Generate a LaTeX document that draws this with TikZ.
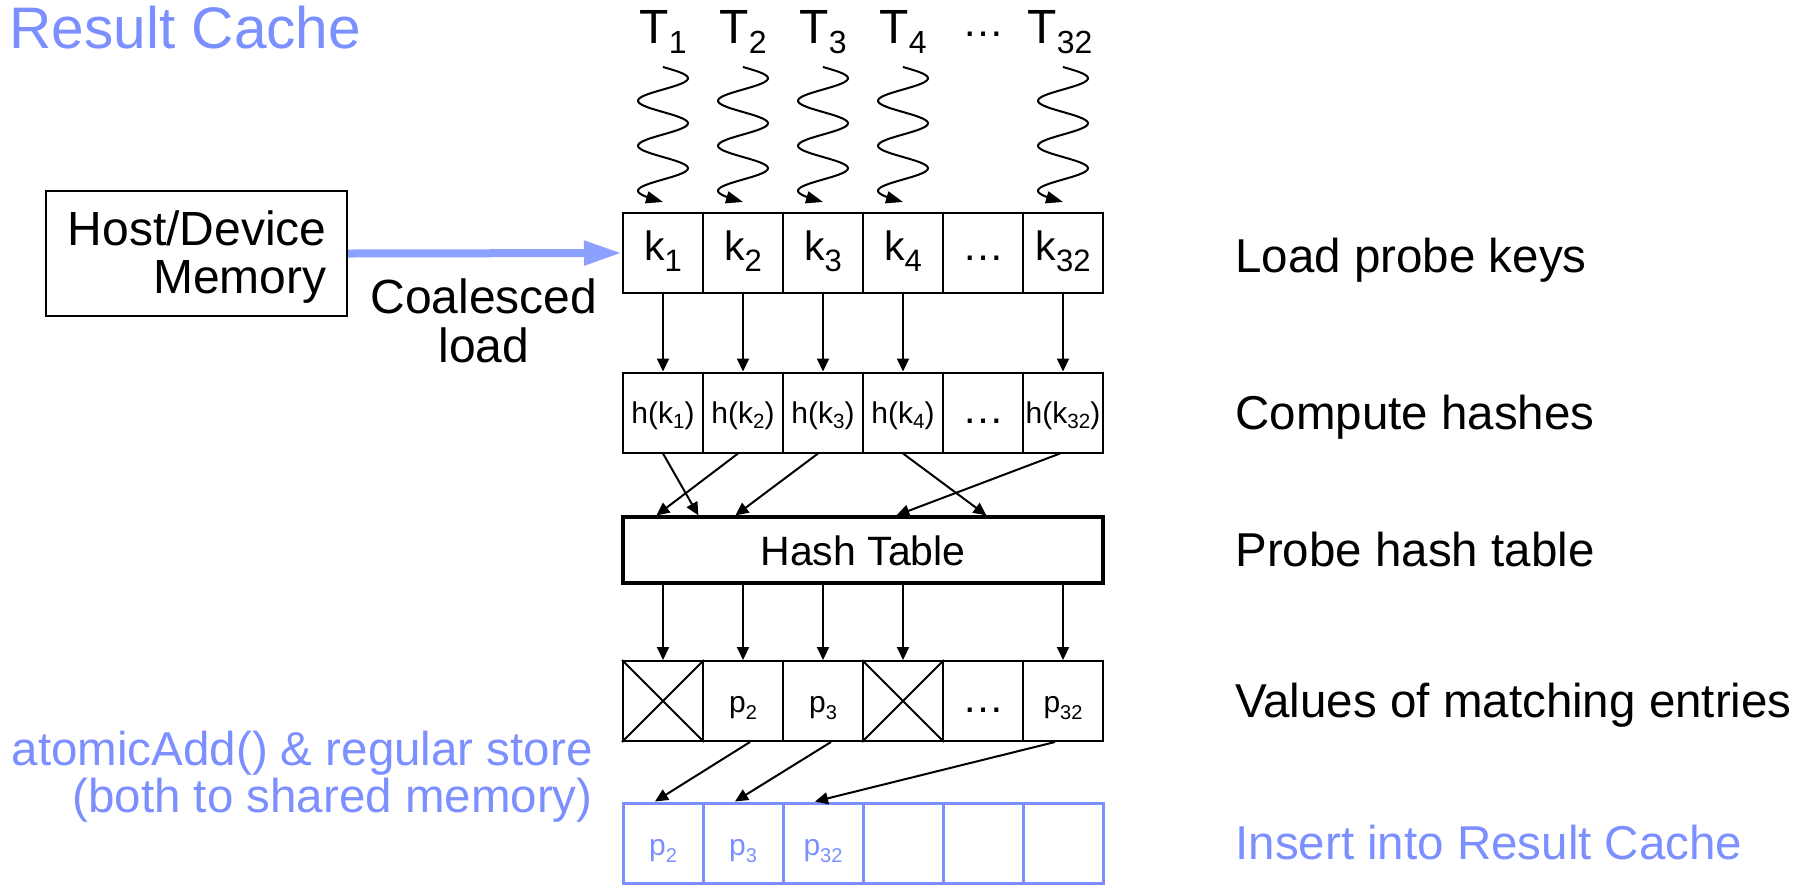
\documentclass[tikz,border=0pt]{standalone}
\usepackage{fontspec}
\setmainfont{Liberation Sans}
\usetikzlibrary{arrows.meta,calc}
\definecolor{cacheblue}{RGB}{124,143,255}
\definecolor{loadblue}{RGB}{140,160,255}
% lowered, smaller text used as a subscript: size, drop, text
\newcommand{\lowsub}[3]{\raisebox{-#2}{\fontsize{#1}{#1}\selectfont #3}}

\begin{document}
\begin{tikzpicture}[x=0.5pt,y=-0.5pt,
  box/.style={draw, line width=1pt, minimum width=40pt, minimum height=40pt, inner sep=0pt, text depth=0pt},
  keycell/.style={box, text height=7pt, font=\fontsize{20.5}{20.5}\selectfont},
  hashcell/.style={box, text height=10.5pt, font=\fontsize{15}{15}\selectfont},
  valcell/.style={box, text height=11pt, font=\fontsize{15}{15}\selectfont},
  rescell/.style={box, draw=cacheblue, text=cacheblue, line width=1.5pt, text height=12pt, font=\fontsize{15}{15}\selectfont},
  flow/.style={line width=1pt, -{Triangle[length=6.5pt,width=6pt]}},
  wave/.style={line width=1pt, -{Triangle[length=8.5pt,width=6pt]}},
  tlabel/.style={anchor=base, inner sep=0pt, font=\fontsize{24}{24}\selectfont},
  stagelabel/.style={anchor=base west, inner sep=0pt, font=\fontsize{23.75}{23.75}\selectfont},
  sidetext/.style={inner sep=0pt, font=\fontsize{24}{24}\selectfont},
  bigdots/.style={font=\fontsize{21}{21}\selectfont}
]
\useasboundingbox (0,0) rectangle (1814,885);

% title
\node[anchor=base west, inner sep=0pt, text=cacheblue, font=\fontsize{29.3}{29.3}\selectfont] (title) at (9,48) {Result Cache};

% threads
\node[tlabel] (T1) at (663,43) {T\lowsub{16}{5pt}{1}};
\node[tlabel] (T2) at (743,43) {T\lowsub{16}{5pt}{2}};
\node[tlabel] (T3) at (823,43) {T\lowsub{16}{5pt}{3}};
\node[tlabel] (T4) at (903,43) {T\lowsub{16}{5pt}{4}};
\node[anchor=base, inner sep=0pt, bigdots] (Tdots) at (983,36) {…};
\node[tlabel] (T6) at (1060,43) {T\lowsub{16}{5pt}{32}};

% probe keys
\node[keycell] (k1) at (663,253) {k\lowsub{15.5}{5.5pt}{1}};
\node[keycell] (k2) at (743,253) {k\lowsub{15.5}{5.5pt}{2}};
\node[keycell] (k3) at (823,253) {k\lowsub{15.5}{5.5pt}{3}};
\node[keycell] (k4) at (903,253) {k\lowsub{15.5}{5.5pt}{4}};
\node[keycell,bigdots] (k5) at (983,253) {…};
\node[keycell] (k6) at (1063,253) {k\lowsub{15.5}{5.5pt}{32}};

% hashes
\node[hashcell] (h1) at (663,412.5) {h(k\lowsub{10.3}{2.5pt}{1})};
\node[hashcell] (h2) at (743,412.5) {h(k\lowsub{10.3}{2.5pt}{2})};
\node[hashcell] (h3) at (823,412.5) {h(k\lowsub{10.3}{2.5pt}{3})};
\node[hashcell] (h4) at (903,412.5) {h(k\lowsub{10.3}{2.5pt}{4})};
\node[hashcell,bigdots] (h5) at (983,412.5) {…};
\node[hashcell] (h6) at (1063,412.5) {h(k\lowsub{10.3}{2.5pt}{32})};

% hash table
\node[draw, line width=1.6pt, minimum width=240pt, minimum height=33pt, inner sep=0pt,
      text height=15pt, text depth=0pt, font=\fontsize{20.5}{20.5}\selectfont] (ht) at (863,550) {Hash Table};

% matching values
\node[valcell] (v1) at (663,701) {};
\node[valcell] (v2) at (743,701) {p\lowsub{10}{3.5pt}{2}};
\node[valcell] (v3) at (823,701) {p\lowsub{10}{3.5pt}{3}};
\node[valcell] (v4) at (903,701) {};
\node[valcell,bigdots] (v5) at (983,701) {…};
\node[valcell] (v6) at (1063,701) {p\lowsub{10}{3.5pt}{32}};
\foreach \i in {1,4}
  \draw[line width=1pt] (v\i.north west) -- (v\i.south east) (v\i.north east) -- (v\i.south west);

% result cache
\node[rescell] (r1) at (663,843) {p\lowsub{10}{3.5pt}{2}};
\node[rescell] (r2) at (743,843) {p\lowsub{10}{3.5pt}{3}};
\node[rescell] (r3) at (823,843) {p\lowsub{10}{3.5pt}{32}};
\node[rescell] (r4) at (903,843) {};
\node[rescell] (r5) at (983,843) {};
\node[rescell] (r6) at (1063,843) {};

% host memory and coalesced load
\node[draw, line width=1pt, minimum width=150.5pt, minimum height=62.5pt, inner sep=0pt] (hd) at (196.5,253.5) {};
\node[sidetext, anchor=base east] (hd1) at (327,245) {Host/Device};
\node[sidetext, anchor=base east] (hd2) at (327,293) {Memory};
\node[sidetext, anchor=base] (cl1) at (484,313) {Coalesced};
\node[sidetext, anchor=base] (cl2) at (484,362) {load};
\draw[line width=4pt, draw=loadblue, -{Triangle[length=19pt,width=11.5pt]}] (hd.east) -- (k1.west);

% stage descriptions
\node[stagelabel] (s1) at (1235,272) {Load probe keys};
\node[stagelabel] (s2) at (1235,429) {Compute hashes};
\node[stagelabel] (s3) at (1235,566) {Probe hash table};
\node[stagelabel] (s4) at (1235,717) {Values of matching entries};
\node[stagelabel, text=cacheblue] (s5) at (1235,859) {Insert into Result Cache};

\node[stagelabel, anchor=base east, text=cacheblue] (n1) at (593,765) {atomicAdd() \& regular store};
\node[stagelabel, anchor=base east, text=cacheblue] (n2) at (593,812) {(both to shared memory)};

% threads load their keys
\foreach \i in {1,2,3,4,6}
  \draw[wave] let \p1=(k\i.north) in
    plot[domain=0:135, samples=90, variable=\t] ({\x1+12.5pt*sin(8*\t)}, {\y1+72.5pt-0.5pt*\t});

% keys to hashes
\foreach \i in {1,2,3,4,6}
  \draw[flow] (k\i.south) -- (h\i.north);

% hashes probe the table
\coordinate (in1) at ($(ht.north west)+(77,0)$);
\coordinate (in2) at ($(ht.north west)+(35,0)$);
\coordinate (in3) at ($(ht.north west)+(114,0)$);
\coordinate (in4) at ($(ht.north west)+(365,0)$);
\coordinate (in6) at ($(ht.north west)+(275,0)$);
\draw[flow] (h1.south) -- (in1);
\draw[flow] ($(h2.south)+(-5,0)$) -- (in2);
\draw[flow] ($(h3.south)+(-5,0)$) -- (in3);
\draw[flow] (h4.south) -- (in4);
\draw[flow] ($(h6.south)+(-3,0)$) -- (in6);

% table lookups give values
\foreach \i in {1,2,3,4,6}
  \draw[flow] (ht.south -| v\i.north) -- (v\i.north);

% matches are stored into the result cache
\draw[flow] ($(v2.south)+(7,0)$) -- ($(r1.north)+(-8,0)$);
\draw[flow] ($(v3.south)+(8,0)$) -- ($(r2.north)+(-8,0)$);
\draw[flow] ($(v6.south)+(-8,0)$) -- ($(r3.north)+(-8,0)$);
\end{tikzpicture}
\end{document}
